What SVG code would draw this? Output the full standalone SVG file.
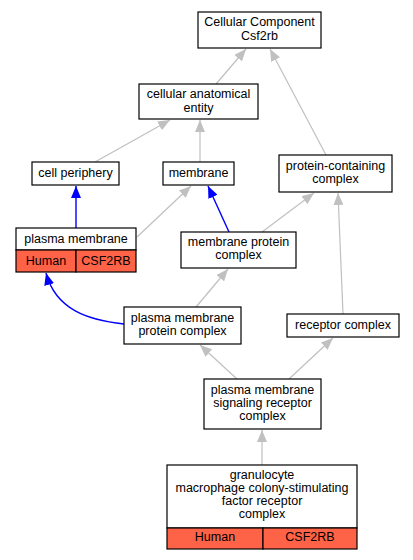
<svg xmlns="http://www.w3.org/2000/svg" width="413" height="560" viewBox="0 0 413 560">
<style>
.box{fill:#fff;stroke:#000;stroke-width:1.2}
.red{fill:#ff6347;stroke:#000;stroke-width:1.2}
text{font-family:"Liberation Sans",Arial,sans-serif;font-size:12.5px;fill:#000;text-anchor:middle}
.g{fill:none;stroke:#c0c0c0;stroke-width:1.2}
.b{fill:none;stroke:#0000ff;stroke-width:1.4}
</style>
<defs>
<marker id="ag" markerUnits="userSpaceOnUse" markerWidth="12" markerHeight="10" refX="12" refY="5" orient="auto" viewBox="0 0 12 10"><path d="M0,0 L12,5 L0,10 z" fill="#c0c0c0"/></marker>
<marker id="ab" markerUnits="userSpaceOnUse" markerWidth="12" markerHeight="10" refX="12" refY="5" orient="auto" viewBox="0 0 12 10"><path d="M0,0 L12,5 L0,10 z" fill="#0000ff"/></marker>
</defs>
<rect width="413" height="560" fill="#fff"/>
<g id="edges">
<path class="g" d="M216,84 L246,49" marker-end="url(#ag)"/>
<path class="g" d="M326,155 L270,49" marker-end="url(#ag)"/>
<path class="g" d="M95,162 L170,120" marker-end="url(#ag)"/>
<path class="g" d="M200,162 L200,120" marker-end="url(#ag)"/>
<path class="b" d="M76,228 L76,186" marker-end="url(#ab)"/>
<path class="g" d="M137,237 L191,186" marker-end="url(#ag)"/>
<path class="b" d="M229,232 L208,186" marker-end="url(#ab)"/>
<path class="g" d="M262,232 L314,193" marker-end="url(#ag)"/>
<path class="g" d="M196,307 L228,269" marker-end="url(#ag)"/>
<path class="b" d="M124,324 C88,320 56,310 46,273" marker-end="url(#ab)"/>
<path class="g" d="M343,314 L338,193" marker-end="url(#ag)"/>
<path class="g" d="M237,379 L200,345" marker-end="url(#ag)"/>
<path class="g" d="M289,379 L333,338" marker-end="url(#ag)"/>
<path class="g" d="M262,465 L262,430" marker-end="url(#ag)"/>
</g>
<g id="cellular-component">
<rect class="box" x="198" y="12" width="123" height="36"/>
<text x="259.5" y="26.3">Cellular Component</text>
<text x="259.5" y="39.5">Csf2rb</text>
</g>
<g id="cellular-anatomical-entity">
<rect class="box" x="139" y="84" width="119" height="35"/>
<text x="198.5" y="98.4">cellular anatomical</text>
<text x="198.5" y="111.6">entity</text>
</g>
<g id="cell-periphery">
<rect class="box" x="32" y="162" width="87" height="23"/>
<text x="75.5" y="177">cell periphery</text>
</g>
<g id="membrane">
<rect class="box" x="163" y="162" width="71" height="23"/>
<text x="198.5" y="177">membrane</text>
</g>
<g id="protein-containing-complex">
<rect class="box" x="279" y="155" width="113" height="37"/>
<text x="335.5" y="169.8">protein-containing</text>
<text x="335.5" y="183">complex</text>
</g>
<g id="plasma-membrane">
<rect class="box" x="16" y="228" width="120" height="22"/>
<rect class="red" x="16" y="250" width="60" height="22"/>
<rect class="red" x="76" y="250" width="60" height="22"/>
<text x="76" y="242.5">plasma membrane</text>
<text x="46" y="264.5">Human</text>
<text x="106" y="264.5">CSF2RB</text>
</g>
<g id="membrane-protein-complex">
<rect class="box" x="181" y="232" width="115" height="36"/>
<text x="238.5" y="246">membrane protein</text>
<text x="238.5" y="259.2">complex</text>
</g>
<g id="plasma-membrane-protein-complex">
<rect class="box" x="124" y="307" width="117" height="37"/>
<text x="182.5" y="321.6">plasma membrane</text>
<text x="182.5" y="334.8">protein complex</text>
</g>
<g id="receptor-complex">
<rect class="box" x="287" y="314" width="112" height="23"/>
<text x="343" y="329.3">receptor complex</text>
</g>
<g id="pm-signaling-receptor-complex">
<rect class="box" x="204" y="379" width="117" height="50"/>
<text x="262.5" y="393.6">plasma membrane</text>
<text x="262.5" y="406.8">signaling receptor</text>
<text x="262.5" y="420">complex</text>
</g>
<g id="gm-csf-receptor-complex">
<rect class="box" x="167" y="465" width="190" height="63"/>
<rect class="red" x="167" y="528" width="96" height="21"/>
<rect class="red" x="263" y="528" width="94" height="21"/>
<text x="262" y="478.8">granulocyte</text>
<text x="262" y="492">macrophage colony-stimulating</text>
<text x="262" y="505.2">factor receptor</text>
<text x="262" y="518.4">complex</text>
<text x="215" y="541">Human</text>
<text x="310" y="541">CSF2RB</text>
</g>
</svg>
